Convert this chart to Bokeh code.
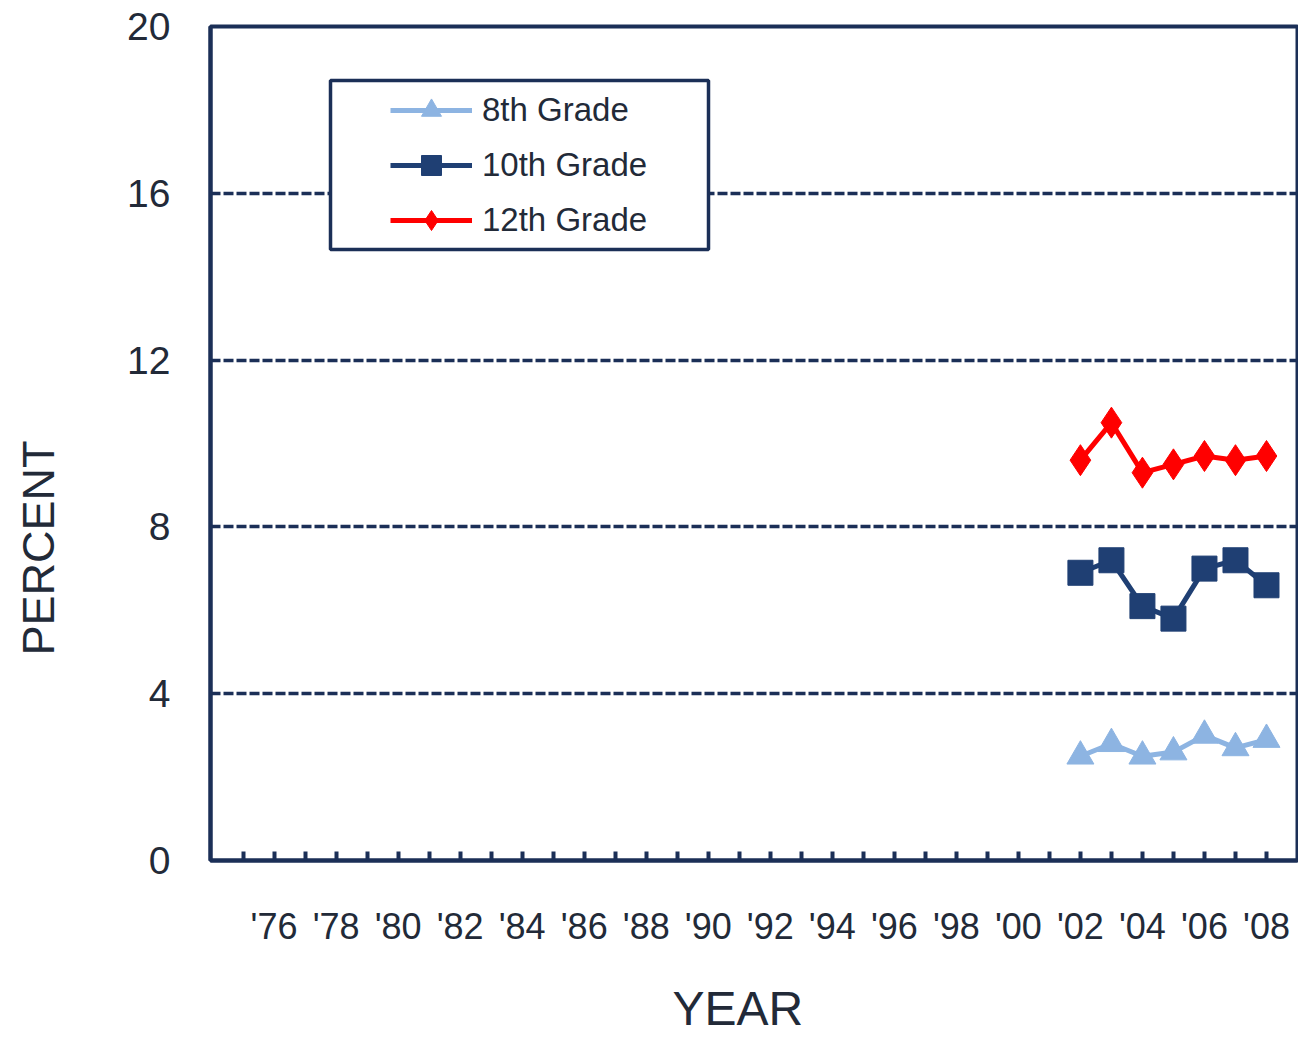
from bokeh.plotting import figure
from bokeh.models import (FixedTicker, Legend, LegendItem, BoxAnnotation, Title)
from bokeh.embed import file_html
from bokeh.resources import INLINE

# Survey years and percentages by grade
years = [2002, 2003, 2004, 2005, 2006, 2007, 2008]
grade8 = [2.5, 2.8, 2.5, 2.6, 3.0, 2.7, 2.9]
grade10 = [6.9, 7.2, 6.1, 5.8, 7.0, 7.2, 6.6]
grade12 = [9.6, 10.5, 9.3, 9.5, 9.7, 9.6, 9.7]

tick_years = list(range(1975, 2009))
y_ticks = [0, 4, 8, 12, 16, 20]
grid_levels = [4, 8, 12, 16]

NAVY = "#1B2F57"
TEXT = "#222A38"
FONT = "Liberation Sans"

p = figure(width=1298, height=1037, output_backend="svg", toolbar_location=None,
           x_range=(1973.95, 2009.0), y_range=(0, 20),
           min_border_left=210, min_border_right=1, min_border_top=26, min_border_bottom=177,
           background_fill_color="white", border_fill_color="white")

p.outline_line_color = NAVY
p.outline_line_width = 4

# Axes
p.xaxis.ticker = FixedTicker(ticks=tick_years)
p.xaxis.major_label_overrides = {
    y: ("'" + str(y)[2:] if y % 2 == 0 else "") for y in tick_years
}
p.xaxis.major_tick_in = 9
p.xaxis.major_tick_out = 0
p.xaxis.major_tick_line_width = 4
p.xaxis.major_tick_line_color = NAVY
p.xaxis.minor_tick_line_color = None
p.xaxis.axis_line_color = NAVY
p.xaxis.axis_line_width = 4
p.xaxis.major_label_standoff = 45
p.xaxis.major_label_text_font = FONT
p.xaxis.major_label_text_font_size = "36px"
p.xaxis.major_label_text_color = TEXT

p.yaxis.ticker = FixedTicker(ticks=y_ticks)
p.yaxis.major_tick_in = 0
p.yaxis.major_tick_out = 0
p.yaxis.minor_tick_line_color = None
p.yaxis.axis_line_color = NAVY
p.yaxis.axis_line_width = 4
p.yaxis.major_label_standoff = 40
p.yaxis.major_label_text_font = FONT
p.yaxis.major_label_text_font_size = "39px"
p.yaxis.major_label_text_color = TEXT

# Axis titles
p.add_layout(Title(text="PERCENT", align="left", offset=205, standoff=0,
                   padding=dict(left=0, right=0, top=0, bottom=61),
                   text_font=FONT, text_font_size="45px", text_font_style="normal",
                   text_color=TEXT), "left")
p.add_layout(Title(text="YEAR", align="left", offset=462, standoff=0,
                   vertical_align="top",
                   padding=dict(left=0, right=0, top=32, bottom=0),
                   text_font=FONT, text_font_size="48px", text_font_style="normal",
                   text_color=TEXT), "below")

p.xgrid.grid_line_color = None
p.ygrid.ticker = FixedTicker(ticks=grid_levels)
p.ygrid.grid_line_color = NAVY
p.ygrid.grid_line_width = 3.5
p.ygrid.grid_line_dash = "10 3"

# Series
C8, C10, C12 = "#8DB4E2", "#1F3F73", "#FF0000"

l8 = p.line(years, grade8, line_color=C8, line_width=5)
m8 = p.scatter(years, grade8, marker="triangle", size=27, fill_color=C8, line_color=C8)
l10 = p.line(years, grade10, line_color=C10, line_width=5)
m10 = p.scatter(years, grade10, marker="square", size=25, fill_color=C10, line_color=C10)
l12 = p.line(years, grade12, line_color=C12, line_width=5)
m12 = p.scatter(years, grade12, marker="diamond", size=31,
                fill_color=C12, line_color=C12)

# Legend frame
p.add_layout(BoxAnnotation(left=330, right=708, top=80, bottom=249,
                           left_units="canvas", right_units="canvas",
                           top_units="canvas", bottom_units="canvas",
                           fill_color="white", fill_alpha=1.0,
                           line_color=NAVY, line_alpha=1.0, line_width=3.5,
                           level="annotation"))

legend = Legend(items=[
    LegendItem(label="8th Grade", renderers=[l8, m8]),
    LegendItem(label="10th Grade", renderers=[l10, m10]),
    LegendItem(label="12th Grade", renderers=[l12, m12]),
], location=(180, 615), padding=0, margin=0, spacing=5,
    glyph_width=82, glyph_height=50, label_height=50, label_standoff=10,
    label_text_font=FONT, label_text_font_size="33px", label_text_color=TEXT,
    border_line_color=None, background_fill_alpha=0)
p.add_layout(legend, "center")

open("out.html", "w").write(file_html(p, INLINE))
